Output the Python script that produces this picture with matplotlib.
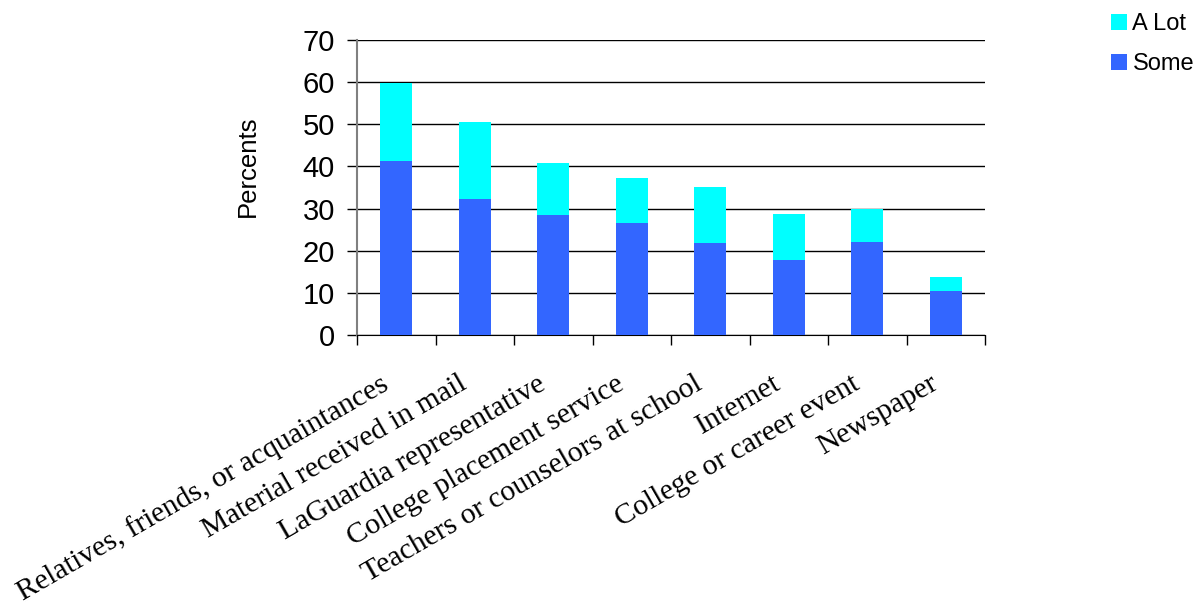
import matplotlib.pyplot as plt
import matplotlib.transforms as mtransforms
import numpy as np

categories = ['Relatives, friends, or acquaintances', 'Material received in mail',
              'LaGuardia representative', 'College placement service',
              'Teachers or counselors at school', 'Internet',
              'College or career event', 'Newspaper']
some = [41.3, 32.3, 28.5, 26.6, 21.8, 17.8, 22.1, 10.4]
a_lot = [18.6, 18.2, 12.3, 10.7, 13.3, 10.9, 7.8, 3.4]

fig = plt.figure(figsize=(12.01, 6.06), dpi=100)
ax = fig.add_axes([357 / 1201, 1 - 335 / 606, (985 - 357) / 1201, 295 / 606])

x = np.arange(len(categories))
b1 = ax.bar(x, some, width=0.41, color='#3366FF', zorder=3, label='Some')
b2 = ax.bar(x, a_lot, width=0.41, bottom=some, color='#00FFFF', zorder=3, label='A Lot')

ax.set_xlim(-0.5, len(categories) - 0.5)
ax.set_ylim(0, 70)
ax.set_yticks(range(0, 71, 10))
ax.yaxis.grid(True, color='black', linewidth=1.0, zorder=0)
ax.tick_params(axis='y', length=7, width=1.0, color='black', pad=9, labelsize=21)
for lbl in ax.get_yticklabels():
    lbl.set_fontfamily('Liberation Sans')

for s in ['top', 'right']:
    ax.spines[s].set_visible(False)
ax.spines['left'].set_color('#808080')
ax.spines['left'].set_linewidth(1.5)
ax.spines['bottom'].set_color('black')

# tick marks between categories, labels at centers
ax.set_xticks(np.arange(-0.5, len(categories), 1.0))
ax.set_xticklabels([])
ax.tick_params(axis='x', length=7, width=1.0, color='black')

# rotated category labels, right-center anchored below each bar
off = mtransforms.ScaledTranslation(-10 / 100, -47 / 100, fig.dpi_scale_trans)
for xi, name in zip(x, categories):
    ax.text(xi, 0, name, transform=ax.get_xaxis_transform() + off,
            fontfamily='Liberation Serif', fontsize=21.5, rotation=30,
            ha='right', va='center', rotation_mode='anchor')

fig.text(248 / 1201, 1 - 166 / 606, 'Percents', rotation=90, ha='center', va='center',
         fontfamily='Liberation Sans', fontsize=18.5)

fig.legend([b2, b1], ['A Lot', 'Some'], loc='upper left', bbox_to_anchor=(1090 / 1201, 1 + 8 / 606),
           frameon=False, prop={'family': 'Liberation Sans', 'size': 17},
           handlelength=0.65, handleheight=0.65, handletextpad=0.25, labelspacing=0.75)

fig.savefig('out.png', dpi=100)
